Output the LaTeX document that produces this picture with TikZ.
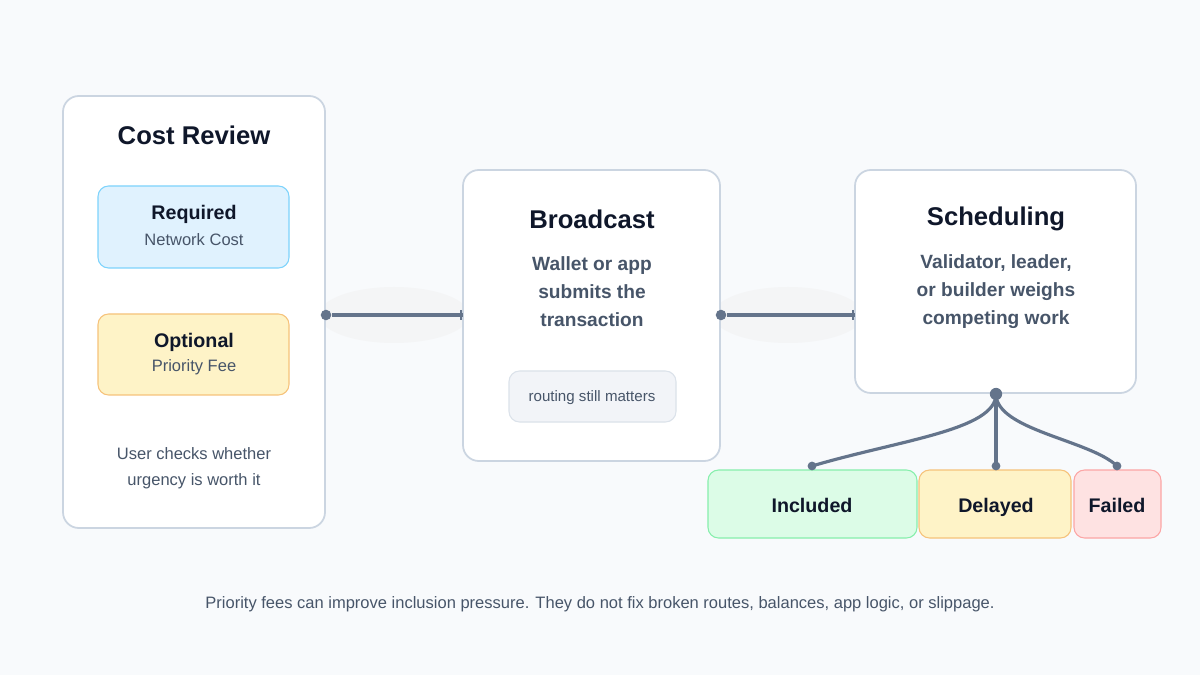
\documentclass[tikz,border=0pt]{standalone}
\usepackage{fontspec}
\setmainfont{Liberation Sans}
\definecolor{bg}{HTML}{F8FAFC}
\definecolor{bord}{HTML}{CBD5E1}
\definecolor{dark}{HTML}{0F172A}
\definecolor{mid}{HTML}{475569}
\definecolor{line}{HTML}{64748B}
\definecolor{bluef}{HTML}{E0F2FE}\definecolor{blued}{HTML}{7DD3FC}
\definecolor{yelf}{HTML}{FEF3C7}\definecolor{yeld}{HTML}{F6C27A}
\definecolor{grnf}{HTML}{DCFCE7}\definecolor{grnd}{HTML}{86EFAC}
\definecolor{redf}{HTML}{FEE2E2}\definecolor{redd}{HTML}{FCA5A5}
\begin{document}
\begin{tikzpicture}[x=0.02cm,y=-0.02cm,
  card/.style={draw=bord,line width=1pt,fill=white,rounded corners=9pt},
  chip/.style={line width=0.6pt,rounded corners=6pt},
  ttl/.style={font=\fontsize{14.6}{16}\selectfont\bfseries,text=dark},
  body/.style={font=\fontsize{10.9}{15.9}\selectfont\bfseries,text=mid,align=center},
  small/.style={font=\fontsize{9.4}{14.7}\selectfont,text=mid,align=center},
  chipt/.style={font=\fontsize{11.2}{12}\selectfont\bfseries,text=dark,text height=8pt,text depth=0pt},
  conn/.style={draw=line,line width=1.8pt},
  dot/.style={circle,fill=line,inner sep=0pt,minimum size=6pt}]
\fill[bg] (0,0) rectangle (1200,675);
\useasboundingbox (0,0) rectangle (1200,675);
% halos
\fill[black!5,opacity=0.6] (394,315) ellipse (75 and 28);
\fill[black!5,opacity=0.6] (788,315) ellipse (75 and 28);
% cards
\draw[card] (63,96) rectangle (325,528);
\node[ttl] (t1) at (194,135) {Cost Review};
\draw[chip,draw=blued,fill=bluef] (98,186) rectangle (289,268);
\node[chipt] (req) at (194,212) {Required};
\node[small] (reqs) at (194,240) {Network Cost};
\draw[chip,draw=yeld,fill=yelf] (98,314) rectangle (289,395);
\node[chipt] (opt) at (194,340) {Optional};
\node[small] (opts) at (194,367) {Priority Fee};
\node[small] (uc) at (194,468) {User checks whether\\urgency is worth it};

\draw[card] (463,170) rectangle (720,461);
\node[ttl] (t2) at (592,219) {Broadcast};
\node[body] (b2) at (592,292) {Wallet or app\\submits the\\transaction};
\draw[chip,draw=bord!70,fill=bord!25] (509,371) rectangle (676,422);
\node[font=\fontsize{8.6}{9}\selectfont,text=mid] (rt) at (592,398) {routing still matters};

\draw[card] (855,170) rectangle (1136,393);
\node[ttl] (t3) at (996,219) {Scheduling};
\node[body] (b3) at (996,292) {Validator, leader,\\or builder weighs\\competing work};

% outcomes
\draw[chip,draw=grnd,fill=grnf] (708,470) rectangle (917,538);
\node[chipt] (inc) at (812,505) {Included};
\draw[chip,draw=yeld,fill=yelf] (919,470) rectangle (1071,538);
\node[chipt] (del) at (996,505) {Delayed};
\draw[chip,draw=redd,fill=redf] (1074,470) rectangle (1161,538);
\node[chipt] (fail) at (1117,505) {Failed};

% connectors
\node[dot] (d1) at (326,315) {};
\coordinate (e1) at (463,315);
\draw[conn] (d1) -- (e1);
\draw[line,line width=1.2pt] (461,310) -- (461,320);
\node[dot] (d2) at (721,315) {};
\coordinate (e2) at (855,315);
\draw[conn] (d2) -- (e2);
\draw[line,line width=1.2pt] (853,310) -- (853,320);

\node[dot,minimum size=7pt] (f) at (996,394) {};
\coordinate (i1) at (812,466);
\coordinate (i2) at (996,466);
\coordinate (i3) at (1117,466);
\draw[conn] (f.center) .. controls (996,430) and (900,440) .. (i1);
\draw[conn] (f.center) -- (i2);
\draw[conn] (f.center) .. controls (996,430) and (1090,440) .. (i3);
\node[dot,minimum size=5pt] at (i1) {};
\node[dot,minimum size=5pt] at (i2) {};
\node[dot,minimum size=5pt] at (i3) {};

\node[font=\fontsize{9.4}{10}\selectfont,text=mid] (foot) at (600,604) {Priority fees can improve inclusion pressure. They do not fix broken routes, balances, app logic, or slippage.};
\end{tikzpicture}
\end{document}
